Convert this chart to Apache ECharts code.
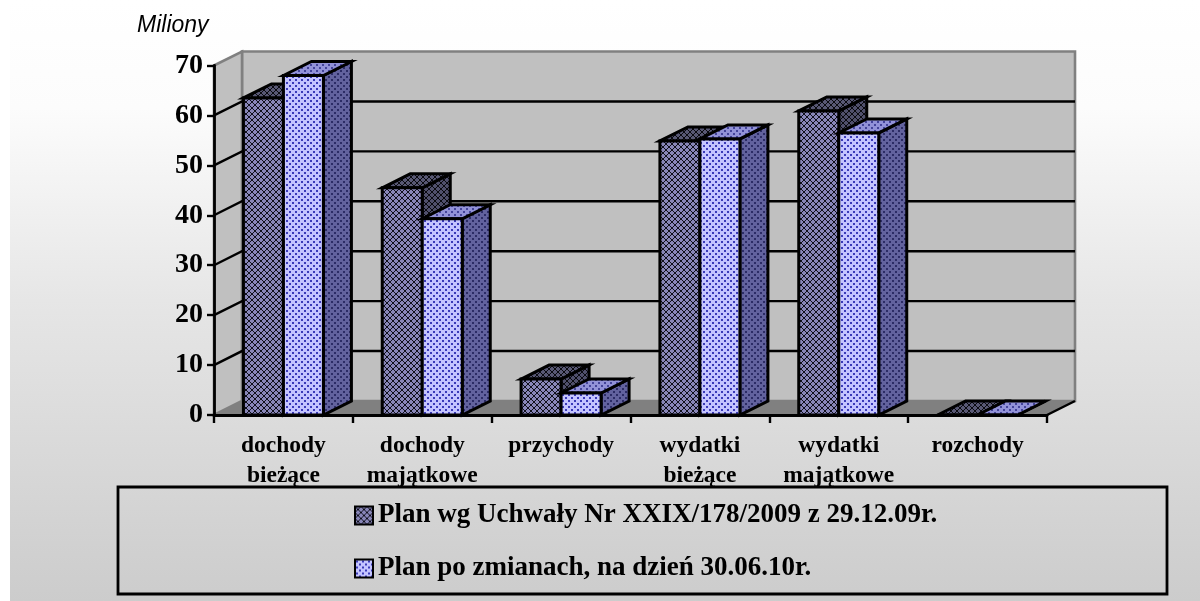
<!DOCTYPE html>
<html><head><meta charset="utf-8">
<style>html,body{margin:0;padding:0;background:#fff}#c{width:1200px;height:601px}</style>
<script src="https://cdn.jsdelivr.net/npm/echarts@6/dist/echarts.min.js"></script>
</head><body><div id="c"></div>
<script>
const categories = ['dochody\nbieżące','dochody\nmajątkowe','przychody','wydatki\nbieżące','wydatki\nmajątkowe','rozchody'];
const planUchwala = [63.5, 45.5, 7.2, 54.9, 60.9, 0];
const planZmiany = [68, 39.3, 4.4, 55.3, 56.5, 0];
const yTicks = [0,10,20,30,40,50,60,70];
const seriesNames = ['Plan wg Uchwały Nr XXIX/178/2009 z 29.12.09r.','Plan po zmianach, na dzień 30.06.10r.'];

function lattice(bg, ink){
  const s=6,c=document.createElement('canvas');c.width=c.height=s;const g=c.getContext('2d');
  g.fillStyle=bg;g.fillRect(0,0,s,s);
  g.fillStyle=ink;
  for(let i=0;i<s;i++){g.fillRect(i,i,1,1);g.fillRect(s-1-i,i,1,1);}
  return {image:c,repeat:'repeat'};
}
function dots(bg, ink){
  const s=6,c=document.createElement('canvas');c.width=c.height=s;const g=c.getContext('2d');
  g.fillStyle=bg;g.fillRect(0,0,s,s);
  g.fillStyle=ink;g.fillRect(1,1,2,2);g.fillRect(4,4,2,2);
  return {image:c,repeat:'repeat'};
}
const faces1 = {front:lattice('#8886b8','#10101c'), top:lattice('#585874','#0a0a10'), side:lattice('#50506c','#0a0a10')};
const faces2 = {front:dots('#c4c4ff','#3a3ab8'), top:dots('#9292d8','#44449a'), side:dots('#62629e','#2c2c66')};

const depthX=28, depthY=-14, barShare=40/138.83;
function renderBar(slot, faces){
  return function(params, api){
    const band=api.size([1,0])[0], w=band*barShare;
    const base=api.coord([api.value(0),0]), top=api.coord([api.value(0),api.value(1)]);
    const x0=base[0]+(slot===0?-w:0), x1=x0+w, y0=base[1], y1=top[1];
    const style=f=>({fill:f,stroke:'#000',lineWidth:3,lineJoin:'miter'});
    return {type:'group',children:[
      {type:'polygon',shape:{points:[[x1,y1],[x1+depthX,y1+depthY],[x1+depthX,y0+depthY],[x1,y0]]},style:style(faces.side)},
      {type:'polygon',shape:{points:[[x0,y1],[x0+depthX,y1+depthY],[x1+depthX,y1+depthY],[x1,y1]]},style:style(faces.top)},
      {type:'polygon',shape:{points:[[x0,y1],[x1,y1],[x1,y0],[x0,y0]]},style:style(faces.front)}
    ]};
  };
}
function renderWalls(params, api){
  const c=params.coordSys, l=c.x, r=c.x+c.width;
  const y0=api.coord([0,0])[1], yT=api.coord([0,70])[1];
  const kids=[
    {type:'polygon',shape:{points:[[l+depthX,yT+depthY],[r+depthX,yT+depthY],[r+depthX,y0+depthY],[l+depthX,y0+depthY]]},style:{fill:'#c0c0c0',stroke:'#808080',lineWidth:2.6}},
    {type:'polygon',shape:{points:[[l,yT],[l+depthX,yT+depthY],[l+depthX,y0+depthY],[l,y0]]},style:{fill:'#c0c0c0',stroke:'#808080',lineWidth:2.6}},
    {type:'polygon',shape:{points:[[l,y0],[l+depthX,y0+depthY],[r+depthX,y0+depthY],[r,y0]]},style:{fill:'#808080',stroke:'#808080',lineWidth:1}},
    {type:'line',shape:{x1:r,y1:y0,x2:r+depthX,y2:y0+depthY},style:{stroke:'#000',lineWidth:2.4}}
  ];
  yTicks.slice(1,-1).forEach(t=>{
    const y=api.coord([0,t])[1];
    kids.push({type:'polyline',shape:{points:[[l,y],[l+depthX,y+depthY],[r+depthX,y+depthY]]},style:{fill:'none',stroke:'#000',lineWidth:2.4}});
  });
  return {type:'group',children:kids};
}
const chart=echarts.init(document.getElementById('c'),null,{renderer:'canvas'});
const serif='"Liberation Serif"';
chart.setOption({
  animation:false,
  backgroundColor:'#fff',
  grid:{left:214,right:153,top:65.5,bottom:186,containLabel:false},
  xAxis:{type:'category',data:categories,z:5,
    axisLine:{lineStyle:{color:'#000',width:2.8}},
    axisTick:{show:true,length:8,lineStyle:{color:'#000',width:2.4}},
    axisLabel:{interval:0,color:'#000',fontFamily:serif,fontWeight:'bold',fontSize:23.5,lineHeight:30,margin:16}},
  yAxis:{type:'value',min:0,max:70,interval:10,z:5,
    axisLine:{show:true,lineStyle:{color:'#000',width:2.8}},
    axisTick:{show:true,length:7,lineStyle:{color:'#000',width:2.4}},
    splitLine:{show:false},
    axisLabel:{color:'#000',fontFamily:serif,fontWeight:'bold',fontSize:28,margin:11}},
  legend:{orient:'vertical',left:354,top:502,itemWidth:18,itemHeight:18,itemGap:26,padding:0,selectedMode:false,
    textStyle:{color:'#000',fontFamily:serif,fontWeight:'bold',fontSize:27},
    data:[
      {name:seriesNames[0],icon:'rect',itemStyle:{color:faces1.front,borderColor:'#000',borderWidth:2}},
      {name:seriesNames[1],icon:'rect',itemStyle:{color:faces2.front,borderColor:'#000',borderWidth:2}}
    ]},
  graphic:{elements:[
    {type:'rect',z:-20,silent:true,shape:{x:10,y:0,width:1190,height:601},
      style:{fill:new echarts.graphic.LinearGradient(0,0,0,1,[{offset:0,color:'#ffffff'},{offset:0.18,color:'#fcfcfc'},{offset:0.5,color:'#e6e6e6'},{offset:1,color:'#cccccc'}])}},
    {type:'rect',z:-10,silent:true,shape:{x:118,y:487,width:1049,height:107},style:{fill:'none',stroke:'#000',lineWidth:2.8}},
    {type:'text',z:10,silent:true,x:137,y:14,style:{text:'Miliony',fill:'#000',font:'italic 23px "Liberation Sans"'}}
  ]},
  series:[
    {type:'custom',name:'walls',silent:true,z:1,clip:false,coordinateSystem:'cartesian2d',data:[[0,0]],encode:{x:0,y:1},renderItem:renderWalls},
    {type:'custom',name:seriesNames[0],silent:true,z:2,clip:false,data:planUchwala.map((v,i)=>[i,v]),encode:{x:0,y:1},renderItem:renderBar(0,faces1)},
    {type:'custom',name:seriesNames[1],silent:true,z:2,clip:false,data:planZmiany.map((v,i)=>[i,v]),encode:{x:0,y:1},renderItem:renderBar(1,faces2)}
  ]
});
</script></body></html>
